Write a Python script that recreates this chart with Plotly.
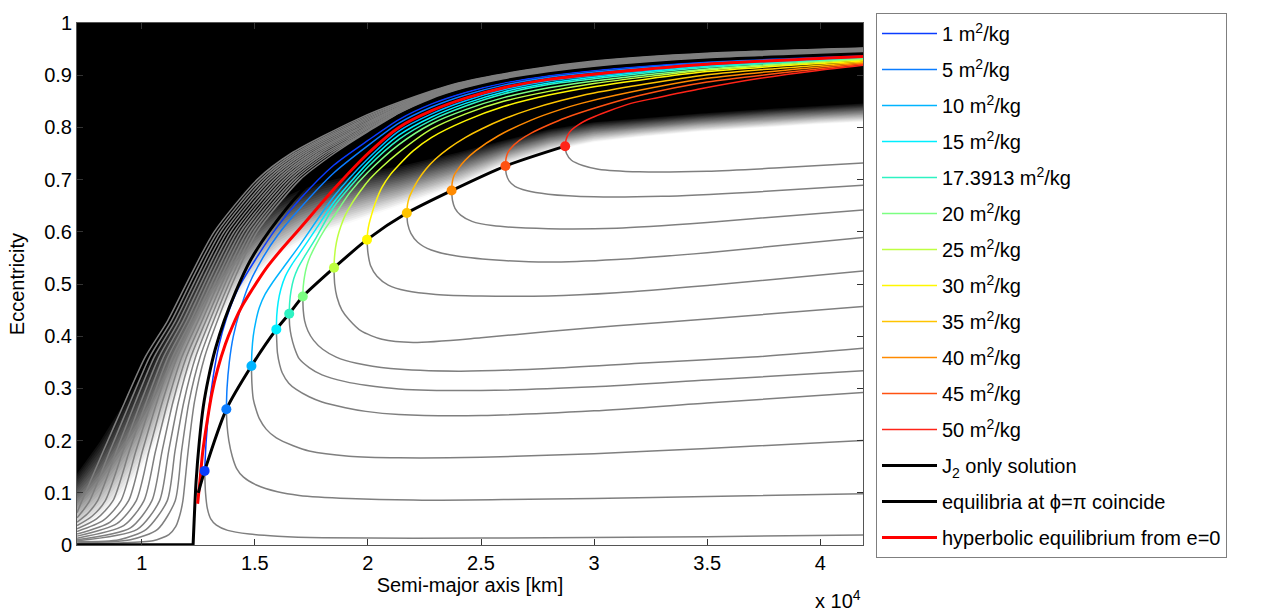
import plotly.graph_objects as go

FONT = "Liberation Sans, Arial, sans-serif"

# ---------------- data (semi-major axis in 10^4 km, eccentricity) ----------------
am_values = ['1', '5', '10', '15', '17.3913', '20', '25', '30', '35', '40', '45', '50']
am_colors = ['#0A3CFF', '#0A7CFF', '#00B4FF', '#00EEFF', '#2EF2C2', '#7CFF82',
             '#BEFF42', '#FFF700', '#FFC400', '#FF8A00', '#FF5212', '#FF2418']

dot_a = [1.278, 1.374, 1.485, 1.595, 1.652, 1.712, 1.85, 1.996, 2.172, 2.37, 2.608, 2.872]
dot_e = [0.142, 0.260, 0.343, 0.413, 0.443, 0.476, 0.531, 0.585, 0.636, 0.679, 0.726, 0.764]

# upper (coloured) branches
up_1_a = [1.278, 1.285, 1.297, 1.315, 1.34, 1.375, 1.425, 1.5, 1.6, 1.7, 1.85, 2.0, 2.137, 2.282, 2.432, 2.6, 2.8, 3.0, 3.5, 4.19]
up_1_e = [0.142, 0.2, 0.26, 0.32, 0.38, 0.435, 0.49, 0.545, 0.61, 0.663, 0.728, 0.775, 0.815, 0.845, 0.867, 0.885, 0.899, 0.909, 0.926, 0.939]
up_5_a = [1.374, 1.377, 1.387, 1.405, 1.435, 1.475, 1.535, 1.6, 1.7, 1.85, 2.0, 2.137, 2.282, 2.432, 2.6, 2.8, 3.0, 3.5, 4.19]
up_5_e = [0.26, 0.30, 0.35, 0.40, 0.45, 0.50, 0.55, 0.593, 0.645, 0.713, 0.765, 0.808, 0.839, 0.862, 0.881, 0.896, 0.906, 0.924, 0.937]
up_10_a = [1.485, 1.487, 1.493, 1.505, 1.52, 1.545, 1.577, 1.62, 1.7, 1.85, 2.0, 2.137, 2.282, 2.432, 2.6, 2.8, 3.0, 3.5, 4.19]
up_10_e = [0.343, 0.37, 0.40, 0.43, 0.455, 0.48, 0.502, 0.528, 0.575, 0.668, 0.74, 0.793, 0.826, 0.851, 0.872, 0.889, 0.899, 0.919, 0.935]
up_15_a = [1.595, 1.597, 1.603, 1.615, 1.635, 1.665, 1.7, 1.77, 1.85, 2.0, 2.137, 2.282, 2.432, 2.6, 2.8, 3.0, 3.5, 4.19]
up_15_e = [0.413, 0.44, 0.465, 0.49, 0.515, 0.538, 0.56, 0.605, 0.657, 0.732, 0.785, 0.82, 0.846, 0.868, 0.885, 0.896, 0.917, 0.933]
up_17_a = [1.652, 1.654, 1.66, 1.672, 1.69, 1.72, 1.77, 1.85, 2.0, 2.137, 2.282, 2.432, 2.6, 2.8, 3.0, 3.5, 4.19]
up_17_e = [0.443, 0.465, 0.487, 0.51, 0.53, 0.553, 0.588, 0.648, 0.724, 0.777, 0.814, 0.841, 0.864, 0.882, 0.893, 0.915, 0.932]
up_20_a = [1.712, 1.714, 1.72, 1.73, 1.745, 1.77, 1.81, 1.85, 1.92, 2.0, 2.137, 2.282, 2.432, 2.6, 2.8, 3.0, 3.5, 4.19]
up_20_e = [0.476, 0.495, 0.515, 0.535, 0.553, 0.575, 0.605, 0.63, 0.675, 0.714, 0.767, 0.807, 0.834, 0.857, 0.876, 0.889, 0.912, 0.931]
up_25_a = [1.85, 1.852, 1.857, 1.866, 1.88, 1.90, 1.93, 1.97, 2.0, 2.062, 2.137, 2.282, 2.432, 2.6, 2.8, 3.0, 3.5, 4.19]
up_25_e = [0.531, 0.55, 0.57, 0.59, 0.61, 0.632, 0.655, 0.68, 0.697, 0.724, 0.752, 0.797, 0.826, 0.85, 0.869, 0.884, 0.91, 0.929]
up_30_a = [1.996, 1.999, 2.005, 2.013, 2.035, 2.062, 2.1, 2.137, 2.2, 2.282, 2.432, 2.6, 2.8, 3.0, 3.5, 4.19]
up_30_e = [0.585, 0.60, 0.615, 0.628, 0.658, 0.685, 0.71, 0.728, 0.755, 0.781, 0.813, 0.84, 0.862, 0.878, 0.907, 0.927]
up_35_a = [2.172, 2.175, 2.182, 2.194, 2.22, 2.256, 2.3, 2.357, 2.432, 2.502, 2.6, 2.722, 2.85, 3.0, 3.5, 4.19]
up_35_e = [0.636, 0.652, 0.665, 0.677, 0.698, 0.72, 0.74, 0.76, 0.781, 0.797, 0.816, 0.835, 0.851, 0.866, 0.901, 0.925]
up_40_a = [2.37, 2.373, 2.38, 2.40, 2.43, 2.476, 2.577, 2.722, 2.85, 2.943, 3.1, 3.5, 4.19]
up_40_e = [0.679, 0.695, 0.707, 0.721, 0.737, 0.755, 0.784, 0.814, 0.834, 0.846, 0.862, 0.894, 0.923]
up_45_a = [2.608, 2.611, 2.618, 2.634, 2.67, 2.722, 2.8, 2.872, 3.018, 3.2, 3.5, 4.19]
up_45_e = [0.726, 0.741, 0.751, 0.761, 0.775, 0.789, 0.805, 0.818, 0.839, 0.861, 0.887, 0.921]
up_50_a = [2.872, 2.876, 2.885, 2.9, 2.93, 2.987, 3.062, 3.163, 3.28, 3.46, 3.72, 3.99, 4.19]
up_50_e = [0.764, 0.776, 0.786, 0.795, 0.805, 0.818, 0.831, 0.846, 0.857, 0.873, 0.893, 0.909, 0.919]

# lower (grey) branches leaving each equilibrium point
lo_1_a = [1.278, 1.282, 1.29, 1.305, 1.33, 1.38, 1.476, 1.6, 1.8, 2.2, 2.8, 3.5, 4.19]
lo_1_e = [0.142, 0.10, 0.07, 0.05, 0.038, 0.028, 0.021, 0.017, 0.014, 0.013, 0.014, 0.016, 0.019]
lo_5_a = [1.374, 1.377, 1.385, 1.40, 1.419, 1.45, 1.507, 1.6, 1.696, 1.916, 2.2, 2.6, 3.0, 3.5, 4.19]
lo_5_e = [0.26, 0.23, 0.2, 0.17, 0.147, 0.13, 0.115, 0.102, 0.095, 0.089, 0.086, 0.087, 0.089, 0.093, 0.098]
lo_10_a = [1.485, 1.487, 1.493, 1.505, 1.52, 1.55, 1.595, 1.67, 1.74, 1.916, 2.137, 2.5, 3.0, 3.5, 4.19]
lo_10_e = [0.343, 0.31, 0.28, 0.26, 0.242, 0.222, 0.205, 0.19, 0.18, 0.17, 0.167, 0.168, 0.175, 0.185, 0.200]
lo_15_a = [1.595, 1.597, 1.6, 1.61, 1.621, 1.65, 1.683, 1.74, 1.797, 1.9, 1.991, 2.137, 2.5, 3.0, 3.5, 4.19]
lo_15_e = [0.413, 0.39, 0.368, 0.345, 0.33, 0.31, 0.298, 0.284, 0.274, 0.263, 0.256, 0.25, 0.248, 0.257, 0.272, 0.292]
lo_17_a = [1.652, 1.654, 1.661, 1.675, 1.696, 1.74, 1.797, 1.9, 1.991, 2.137, 2.5, 3.0, 3.5, 4.19]
lo_17_e = [0.443, 0.42, 0.40, 0.378, 0.357, 0.34, 0.326, 0.313, 0.306, 0.299, 0.296, 0.303, 0.316, 0.334]
lo_20_a = [1.712, 1.714, 1.72, 1.735, 1.76, 1.8, 1.86, 1.95, 2.1, 2.4, 2.8, 3.2, 3.7, 4.19]
lo_20_e = [0.476, 0.45, 0.43, 0.41, 0.392, 0.375, 0.36, 0.348, 0.338, 0.333, 0.338, 0.348, 0.36, 0.377]
lo_25_a = [1.85, 1.853, 1.863, 1.885, 1.916, 1.97, 2.062, 2.2, 2.5, 2.797, 3.1, 3.5, 4.19]
lo_25_e = [0.531, 0.50, 0.475, 0.45, 0.432, 0.41, 0.394, 0.388, 0.397, 0.409, 0.42, 0.433, 0.457]
lo_30_a = [1.996, 2.0, 2.012, 2.04, 2.09, 2.17, 2.3, 2.5, 2.797, 3.1, 3.5, 4.19]
lo_30_e = [0.585, 0.56, 0.535, 0.515, 0.498, 0.487, 0.48, 0.477, 0.477, 0.483, 0.497, 0.525]
lo_35_a = [2.172, 2.176, 2.19, 2.22, 2.28, 2.4, 2.6, 2.797, 3.1, 3.5, 4.19]
lo_35_e = [0.636, 0.615, 0.597, 0.58, 0.565, 0.553, 0.545, 0.542, 0.547, 0.56, 0.589]
lo_40_a = [2.37, 2.374, 2.385, 2.41, 2.46, 2.55, 2.797, 3.1, 3.5, 4.19]
lo_40_e = [0.679, 0.66, 0.645, 0.632, 0.62, 0.612, 0.606, 0.607, 0.618, 0.642]
lo_45_a = [2.608, 2.612, 2.625, 2.65, 2.7, 2.797, 3.0, 3.3, 3.7, 4.19]
lo_45_e = [0.726, 0.71, 0.697, 0.687, 0.679, 0.672, 0.667, 0.668, 0.676, 0.689]
lo_50_a = [2.872, 2.878, 2.9, 2.95, 3.018, 3.2, 3.5, 3.8, 4.19]
lo_50_e = [0.764, 0.75, 0.737, 0.727, 0.72, 0.715, 0.716, 0.722, 0.732]

# grey trajectories left of the J2 solution (outer -> inner)
b0_a = [0.714, 0.736, 0.830, 0.925, 1.015, 1.115, 1.220, 1.320, 1.510, 1.660, 1.95, 2.15, 2.4, 2.7, 3.0, 3.5, 4.19]
b0_e = [0.062, 0.085, 0.18, 0.274, 0.36, 0.43, 0.52, 0.60, 0.70, 0.75, 0.815, 0.850, 0.885, 0.910, 0.927, 0.942, 0.952]
b1_a = [0.714, 0.74, 0.770, 0.859, 0.949, 1.035, 1.132, 1.235, 1.335, 1.525, 1.675, 1.95, 2.15, 2.4, 2.7, 3.0, 3.5, 4.19]
b1_e = [0.052, 0.066, 0.085, 0.18, 0.274, 0.36, 0.43, 0.52, 0.60, 0.70, 0.75, 0.812, 0.848, 0.884, 0.909, 0.926, 0.941, 0.951]
b2_a = [0.714, 0.76, 0.805, 0.888, 0.972, 1.055, 1.149, 1.251, 1.349, 1.539, 1.689, 1.95, 2.15, 2.4, 2.7, 3.0, 3.5, 4.19]
b2_e = [0.044, 0.060, 0.085, 0.18, 0.274, 0.36, 0.43, 0.52, 0.60, 0.70, 0.75, 0.809, 0.847, 0.883, 0.908, 0.925, 0.940, 0.951]
b3_a = [0.714, 0.78, 0.839, 0.917, 0.996, 1.076, 1.166, 1.266, 1.364, 1.554, 1.704, 1.95, 2.15, 2.4, 2.7, 3.0, 3.5, 4.19]
b3_e = [0.037, 0.055, 0.085, 0.18, 0.274, 0.36, 0.43, 0.52, 0.60, 0.70, 0.75, 0.806, 0.845, 0.882, 0.907, 0.924, 0.940, 0.950]
b4_a = [0.714, 0.80, 0.873, 0.945, 1.020, 1.096, 1.183, 1.282, 1.378, 1.568, 1.718, 1.95, 2.15, 2.4, 2.7, 3.0, 3.5, 4.19]
b4_e = [0.031, 0.050, 0.085, 0.18, 0.274, 0.36, 0.43, 0.52, 0.60, 0.70, 0.75, 0.803, 0.844, 0.881, 0.906, 0.923, 0.939, 0.949]
b5_a = [0.714, 0.83, 0.908, 0.974, 1.043, 1.116, 1.200, 1.297, 1.393, 1.583, 1.733, 1.95, 2.15, 2.4, 2.7, 3.0, 3.5, 4.19]
b5_e = [0.026, 0.047, 0.085, 0.18, 0.274, 0.36, 0.43, 0.52, 0.60, 0.70, 0.75, 0.800, 0.842, 0.880, 0.905, 0.922, 0.938, 0.948]
b6_a = [0.714, 0.86, 0.942, 1.003, 1.067, 1.136, 1.217, 1.312, 1.408, 1.598, 1.748, 1.95, 2.15, 2.4, 2.7, 3.0, 3.5, 4.19]
b6_e = [0.021, 0.044, 0.085, 0.18, 0.274, 0.36, 0.43, 0.52, 0.60, 0.70, 0.75, 0.797, 0.841, 0.879, 0.904, 0.921, 0.937, 0.948]
b7_a = [0.714, 0.89, 0.976, 1.032, 1.091, 1.157, 1.233, 1.328, 1.422, 1.612, 1.762, 1.95, 2.15, 2.4, 2.7, 3.0, 3.5, 4.19]
b7_e = [0.017, 0.041, 0.085, 0.18, 0.274, 0.36, 0.43, 0.52, 0.60, 0.70, 0.75, 0.794, 0.839, 0.878, 0.903, 0.921, 0.936, 0.947]
b8_a = [0.714, 0.92, 1.010, 1.061, 1.115, 1.177, 1.250, 1.343, 1.437, 1.627, 1.777, 1.95, 2.15, 2.4, 2.7, 3.0, 3.5, 4.19]
b8_e = [0.013, 0.037, 0.085, 0.18, 0.274, 0.36, 0.43, 0.52, 0.60, 0.70, 0.75, 0.791, 0.838, 0.877, 0.902, 0.920, 0.936, 0.946]
b9_a = [0.714, 0.95, 1.045, 1.090, 1.138, 1.197, 1.267, 1.358, 1.451, 1.641, 1.791, 1.95, 2.15, 2.4, 2.7, 3.0, 3.5, 4.19]
b9_e = [0.010, 0.033, 0.085, 0.18, 0.274, 0.36, 0.43, 0.52, 0.60, 0.70, 0.75, 0.788, 0.836, 0.876, 0.901, 0.919, 0.935, 0.945]
b10_a = [0.714, 0.98, 1.079, 1.119, 1.162, 1.217, 1.284, 1.374, 1.466, 1.656, 1.806, 1.95, 2.15, 2.4, 2.7, 3.0, 3.5, 4.19]
b10_e = [0.008, 0.030, 0.085, 0.18, 0.274, 0.36, 0.43, 0.52, 0.60, 0.70, 0.75, 0.785, 0.835, 0.875, 0.900, 0.918, 0.934, 0.945]
b11_a = [0.714, 0.90, 1.02, 1.113, 1.147, 1.186, 1.238, 1.301, 1.389, 1.481, 1.671, 1.821, 1.95, 2.15, 2.4, 2.7, 3.0, 3.5, 4.19]
b11_e = [0.006, 0.010, 0.030, 0.085, 0.18, 0.274, 0.36, 0.43, 0.52, 0.60, 0.70, 0.75, 0.782, 0.833, 0.874, 0.899, 0.917, 0.933, 0.944]
b12_a = [0.714, 0.95, 1.07, 1.148, 1.176, 1.209, 1.258, 1.318, 1.405, 1.495, 1.685, 1.835, 1.95, 2.15, 2.4, 2.7, 3.0, 3.5, 4.19]
b12_e = [0.004, 0.010, 0.030, 0.085, 0.18, 0.274, 0.36, 0.43, 0.52, 0.60, 0.70, 0.75, 0.780, 0.832, 0.873, 0.899, 0.917, 0.933, 0.943]
b13_a = [0.714, 0.9, 1.05, 1.12, 1.15, 1.17, 1.182, 1.205, 1.233, 1.278, 1.335, 1.42, 1.51, 1.70, 1.85, 2.0, 2.15, 2.4, 2.7, 3.0, 3.5, 4.19]
b13_e = [0.003, 0.004, 0.008, 0.02, 0.035, 0.06, 0.085, 0.18, 0.274, 0.36, 0.43, 0.52, 0.60, 0.70, 0.75, 0.792, 0.830, 0.872, 0.898, 0.916, 0.932, 0.943]

# J2-only solution
j2_flat_a = [0.714, 1.227]
j2_flat_e = [0.0, 0.0]
j2_a = [1.227, 1.232, 1.24, 1.255, 1.272, 1.295, 1.325, 1.365, 1.415, 1.48, 1.57, 1.7, 1.85, 2.0, 2.137, 2.282, 2.432, 2.6, 2.8, 3.0, 3.5, 4.19]
j2_e = [0.0, 0.05, 0.12, 0.2, 0.265, 0.32, 0.375, 0.43, 0.485, 0.545, 0.605, 0.675, 0.737, 0.782, 0.822, 0.851, 0.872, 0.889, 0.903, 0.913, 0.929, 0.941]

# equilibria at phi = pi coincide
eq_a = [1.25, 1.278, 1.374, 1.485, 1.595, 1.652, 1.712, 1.85, 1.996, 2.172, 2.37, 2.608, 2.872]
eq_e = [0.10, 0.142, 0.260, 0.343, 0.413, 0.443, 0.476, 0.531, 0.585, 0.636, 0.679, 0.726, 0.764]

# hyperbolic equilibrium from e = 0
hyp_a = [1.247, 1.256, 1.27, 1.291, 1.31, 1.335, 1.37, 1.401, 1.44, 1.476, 1.55, 1.621, 1.7, 1.85, 2.0, 2.137, 2.282, 2.432, 2.6, 2.8, 3.0, 3.5, 4.19]
hyp_e = [0.079, 0.117, 0.18, 0.242, 0.29, 0.336, 0.385, 0.419, 0.455, 0.481, 0.53, 0.568, 0.607, 0.682, 0.75, 0.80, 0.832, 0.856, 0.876, 0.892, 0.902, 0.921, 0.936]

# shaded region: edge of solid black and end of the fade
shade_a = [0.70, 0.76, 0.815, 0.87, 0.925, 0.98, 1.035, 1.09, 1.145, 1.22, 1.3, 1.4, 1.5, 1.6, 1.7, 1.8, 1.9,
           2.0, 2.137, 2.27, 2.4, 2.6, 2.8, 3.0, 3.2, 3.458, 3.8, 4.0, 4.20]
shade_black_e = [0.128, 0.164, 0.198, 0.236, 0.274, 0.312, 0.35, 0.395, 0.44, 0.50, 0.55, 0.60, 0.635, 0.66,
                 0.68, 0.695, 0.705, 0.715, 0.725, 0.738, 0.752, 0.775, 0.796, 0.81, 0.817, 0.826, 0.836, 0.841, 0.846]
shade_white_e = [0.02, 0.032, 0.047, 0.068, 0.094, 0.125, 0.165, 0.21, 0.26, 0.33, 0.40, 0.46, 0.51, 0.55, 0.575,
                 0.595, 0.61, 0.625, 0.645, 0.665, 0.685, 0.725, 0.752, 0.77, 0.78, 0.79, 0.80, 0.805, 0.809]

x_ticks = [1, 1.5, 2, 2.5, 3, 3.5, 4]
x_ticktext = ['1', '1.5', '2', '2.5', '3', '3.5', '4']
y_ticks = [0, 0.1, 0.2, 0.3, 0.4, 0.5, 0.6, 0.7, 0.8, 0.9, 1]
y_ticktext = ['0', '0.1', '0.2', '0.3', '0.4', '0.5', '0.6', '0.7', '0.8', '0.9', '1']

# ---------------- figure ----------------
fig = go.Figure()

n_lev = 24
for k in range(1, n_lev + 1):
    t = k / n_lev
    bnd = [w + (b - w) * t for b, w in zip(shade_black_e, shade_white_e)]
    g = int(round(255 * (1 - (k - 0.5) / n_lev))) if k < n_lev else 0
    fig.add_trace(go.Scatter(
        x=shade_a + [shade_a[-1], shade_a[0]], y=bnd + [1.05, 1.05],
        mode='lines', fill='toself', fillcolor=f'rgb({g},{g},{g})',
        line=dict(width=0), hoverinfo='skip', showlegend=False))

GREY = '#7f7f7f'
SPL = dict(shape='spline', smoothing=0.7)
left_curves = [(b0_a, b0_e), (b1_a, b1_e), (b2_a, b2_e), (b3_a, b3_e), (b4_a, b4_e), (b5_a, b5_e),
               (b6_a, b6_e), (b7_a, b7_e), (b8_a, b8_e), (b9_a, b9_e), (b10_a, b10_e), (b11_a, b11_e),
               (b12_a, b12_e), (b13_a, b13_e)]
for xa, ye in left_curves:
    fig.add_trace(go.Scatter(x=xa, y=ye, mode='lines', line=dict(color=GREY, width=1.5, **SPL),
                             hoverinfo='skip', showlegend=False))

lower = [(lo_1_a, lo_1_e), (lo_5_a, lo_5_e), (lo_10_a, lo_10_e), (lo_15_a, lo_15_e), (lo_17_a, lo_17_e),
         (lo_20_a, lo_20_e), (lo_25_a, lo_25_e), (lo_30_a, lo_30_e), (lo_35_a, lo_35_e), (lo_40_a, lo_40_e),
         (lo_45_a, lo_45_e), (lo_50_a, lo_50_e)]
for xa, ye in lower:
    fig.add_trace(go.Scatter(x=xa, y=ye, mode='lines', line=dict(color=GREY, width=1.5, **SPL),
                             hoverinfo='skip', showlegend=False))

upper = [(up_1_a, up_1_e), (up_5_a, up_5_e), (up_10_a, up_10_e), (up_15_a, up_15_e), (up_17_a, up_17_e),
         (up_20_a, up_20_e), (up_25_a, up_25_e), (up_30_a, up_30_e), (up_35_a, up_35_e), (up_40_a, up_40_e),
         (up_45_a, up_45_e), (up_50_a, up_50_e)]
for i, ((xa, ye), lab, col) in enumerate(zip(upper, am_values, am_colors)):
    fig.add_trace(go.Scatter(x=xa, y=ye, mode='lines', name=f'{lab} m<sup>2</sup>/kg',
                             line=dict(color=col, width=1.5, **SPL),
                             legendgroup=f'g{i:02d}', legendrank=i + 1, hoverinfo='skip'))

fig.add_trace(go.Scatter(x=j2_flat_a, y=j2_flat_e, mode='lines', line=dict(color='black', width=3.5),
                         legendgroup='g12', showlegend=False, hoverinfo='skip'))
fig.add_trace(go.Scatter(x=j2_a, y=j2_e, mode='lines', name='J<sub>2</sub> only solution',
                         line=dict(color='black', width=3, **SPL),
                         legendgroup='g12', legendrank=13, hoverinfo='skip'))
fig.add_trace(go.Scatter(x=hyp_a, y=hyp_e, mode='lines', name='hyperbolic equilibrium from e=0',
                         line=dict(color='#FF0000', width=3, **SPL),
                         legendgroup='g14', legendrank=15, hoverinfo='skip'))
fig.add_trace(go.Scatter(x=eq_a, y=eq_e, mode='lines', name='equilibria at \u03d5=\u03c0 coincide',
                         line=dict(color='black', width=3, **SPL),
                         legendgroup='g13', legendrank=14, hoverinfo='skip'))
fig.add_trace(go.Scatter(x=dot_a, y=dot_e, mode='markers', marker=dict(color=am_colors, size=10, line=dict(width=0)),
                         showlegend=False, hoverinfo='skip'))

axis_font = dict(family=FONT, size=20, color='black')
fig.update_xaxes(range=[0.7137, 4.189], tickvals=x_ticks, ticktext=x_ticktext, ticks='inside', ticklen=6,
                 tickcolor='#333', showline=True, linecolor='#555', linewidth=1, mirror='ticks',
                 showgrid=False, zeroline=False, tickfont=axis_font,
                 title=dict(text='Semi-major axis [km]', font=axis_font, standoff=4))
fig.update_yaxes(range=[0, 1], tickvals=y_ticks, ticktext=y_ticktext, ticks='inside', ticklen=6,
                 tickcolor='#333', showline=True, linecolor='#555', linewidth=1, mirror='ticks',
                 showgrid=False, zeroline=False, tickfont=axis_font,
                 title=dict(text='Eccentricity', font=axis_font, standoff=14))

fig.add_annotation(text='x 10<sup>4</sup>', xref='paper', yref='paper', x=1.0, y=-0.105,
                   xanchor='right', yanchor='middle', showarrow=False, font=axis_font)

fig.update_layout(
    width=1273, height=612,
    margin=dict(l=77, r=407, t=15, b=67),
    paper_bgcolor='white', plot_bgcolor='white',
    font=dict(family=FONT, size=20, color='black'),
    showlegend=True,
    legend=dict(xref='container', yref='container', x=876 / 1273, y=1 - 13 / 612,
                xanchor='left', yanchor='top', bgcolor='white', bordercolor='#7f7f7f', borderwidth=1,
                font=dict(family=FONT, size=20, color='black'), tracegroupgap=7, itemwidth=55,
                traceorder='grouped', maxheight=600),
    hovermode=False,
)

fig.write_html('out.html')
